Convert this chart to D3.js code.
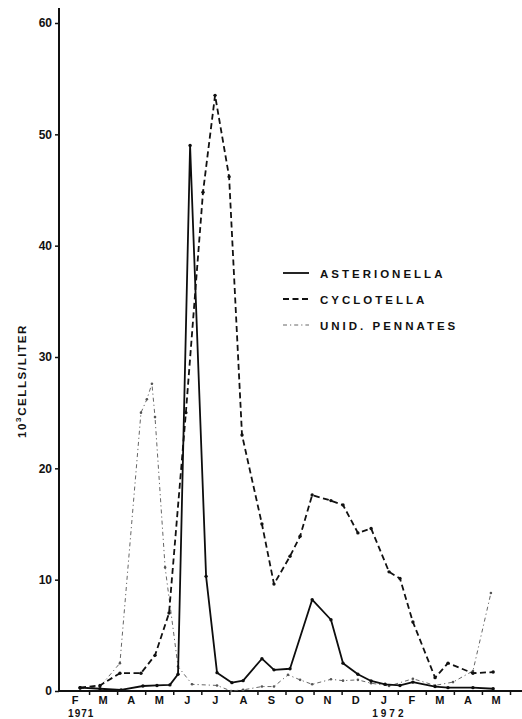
<!DOCTYPE html>
<html>
<head>
<meta charset="utf-8">
<script src="https://cdn.jsdelivr.net/npm/d3@7/dist/d3.min.js"></script>
<style>
  html, body { margin: 0; padding: 0; background: #fff; }
  svg { display: block; }
  text { font-family: "Liberation Sans", Arial, sans-serif; fill: #111; }
</style>
</head>
<body>
<div id="chart"></div>
<script>
// ---- data (x = months since 1 Feb 1971, y = 10^3 cells / liter) ----
const monthLabels = ["F","M","A","M","J","J","A","S","O","N","D","J","F","M","A","M"];
const yearLabels = ["1971", "1972"];
const yTicks = [0, 10, 20, 30, 40, 50, 60];
const seriesNames = ["ASTERIONELLA", "CYCLOTELLA", "UNID. PENNATES"];

const asterMonths = [0.68,1.39,2.14,2.92,3.42,3.88,4.17,4.60,5.17,5.56,6.09,6.49,7.16,7.59,8.16,8.95,9.62,10.05,10.58,11.05,11.55,12.08,12.54,13.33,13.79,14.68,15.40];
const asterValues = [0.3,0.2,0.1,0.45,0.5,0.55,1.5,49.0,10.3,1.65,0.75,0.93,2.9,1.9,2.0,8.2,6.4,2.5,1.5,0.9,0.6,0.5,0.8,0.4,0.3,0.3,0.2];

const cycloMonths = [0.68,1.39,2.10,2.85,3.35,3.85,4.45,5.06,5.49,5.99,6.45,7.16,7.59,8.16,8.52,8.95,9.62,10.05,10.58,11.05,11.69,12.08,12.54,13.33,13.79,14.68,15.40];
const cycloValues = [0.3,0.5,1.6,1.6,3.2,7.0,25.0,44.8,53.5,46.2,23.0,15.0,9.6,12.1,13.9,17.6,17.1,16.7,14.2,14.6,10.7,10.1,6.2,1.2,2.5,1.6,1.7];

const pennMonths = [0.68,1.39,2.10,2.85,3.06,3.24,3.35,3.71,4.17,4.67,5.56,6.06,6.49,7.16,7.59,8.09,8.52,8.95,9.62,10.05,10.58,11.05,11.69,12.54,13.33,13.97,14.68,15.32];
const pennValues = [0.2,0.4,2.5,25.0,26.2,27.6,24.6,11.1,2.2,0.6,0.5,0.0,0.1,0.4,0.4,1.45,1.0,0.6,1.05,0.93,1.0,0.7,0.45,1.1,0.5,0.8,1.8,8.8];

// ---- layout ----
const W = 522, H = 719;
const svg = d3.select("#chart").append("svg").attr("width", W).attr("height", H);

const x = d3.scaleLinear().domain([0, 16]).range([61, 510]);
const y = d3.scaleLinear().domain([0, 60]).range([691, 23]);

const ink = "#111";

// y axis
const yAxis = d3.axisLeft(y).tickValues(yTicks).tickSize(4).tickPadding(3).tickFormat(d3.format("d"));
const gy = svg.append("g").attr("transform", "translate(59,0)").call(yAxis);
gy.select(".domain").remove();
gy.selectAll(".tick line").attr("stroke", ink).attr("stroke-width", 1.5);
gy.selectAll(".tick text").attr("font-size", 12).attr("font-weight", "bold").attr("fill", ink);
svg.append("line").attr("x1", 59).attr("x2", 59).attr("y1", 8).attr("y2", y(0) + 1)
  .attr("stroke", ink).attr("stroke-width", 2);

// x axis (ticks at month boundaries)
const boundaries = d3.range(1, 17);
const xAxis = d3.axisBottom(x).tickValues(boundaries).tickSize(4).tickFormat("");
const gx = svg.append("g").attr("transform", `translate(0,${y(0)})`).call(xAxis);
gx.select(".domain").remove();
gx.selectAll(".tick line").attr("stroke", ink).attr("stroke-width", 1.5);
svg.append("line").attr("x1", 58).attr("x2", 522).attr("y1", y(0)).attr("y2", y(0))
  .attr("stroke", ink).attr("stroke-width", 2.2);

svg.append("g").selectAll("text").data(monthLabels).join("text")
  .attr("x", (d, i) => x(i + 0.5))
  .attr("y", 703.5)
  .attr("text-anchor", "middle")
  .attr("font-size", 11).attr("font-weight", "bold")
  .text(d => d);

svg.append("g").selectAll("text").data(yearLabels).join("text")
  .attr("x", (d, i) => i === 0 ? x(0.72) : x(11.7))
  .attr("y", 716.5)
  .attr("text-anchor", "middle")
  .attr("font-size", 10).attr("font-weight", "bold")
  .attr("letter-spacing", (d, i) => i === 0 ? 1 : 3)
  .text(d => d);

// y axis title
const yt = svg.append("text")
  .attr("transform", "translate(26,381) rotate(-90)")
  .attr("text-anchor", "middle")
  .attr("font-size", 11.5).attr("font-weight", "bold")
  .attr("letter-spacing", 1.6);
yt.append("tspan").text("10");
yt.append("tspan").attr("dy", -5).attr("font-size", 8).text("3");
yt.append("tspan").attr("dy", 5).text("CELLS/LITER");

// series
const series = [
  { name: seriesNames[0], xs: asterMonths, ys: asterValues, width: 1.8, dash: null, color: "#0d0d0d", r: 1.7 },
  { name: seriesNames[1], xs: cycloMonths, ys: cycloValues, width: 1.8, dash: "6,3.5", color: "#111", r: 1.7 },
  { name: seriesNames[2], xs: pennMonths, ys: pennValues, width: 0.9, dash: "4,3,1.2,3", color: "#555", r: 1.3 }
];

const line = d3.line().x(d => x(d[0])).y(d => y(d[1]));

series.slice().reverse().forEach(s => {
  const pts = s.xs.map((m, i) => [m, s.ys[i]]);
  svg.append("path").datum(pts)
    .attr("d", line)
    .attr("fill", "none")
    .attr("stroke", s.color)
    .attr("stroke-width", s.width)
    .attr("stroke-linejoin", "round")
    .attr("stroke-dasharray", s.dash);
  svg.append("g").selectAll("circle").data(pts).join("circle")
    .attr("cx", d => x(d[0])).attr("cy", d => y(d[1]))
    .attr("r", s.r).attr("fill", s.color);
});

// legend
const leg = svg.append("g");
series.forEach((s, i) => {
  const ly = 273 + i * 26;
  leg.append("line").attr("x1", 283).attr("x2", 309).attr("y1", ly).attr("y2", ly)
    .attr("stroke", s.color).attr("stroke-width", s.width).attr("stroke-dasharray", s.dash);
  leg.append("text").attr("x", 320).attr("y", ly + 4.5)
    .attr("font-size", 11.5).attr("font-weight", "bold").attr("letter-spacing", 3)
    .text(s.name);
});
</script>
</body>
</html>
